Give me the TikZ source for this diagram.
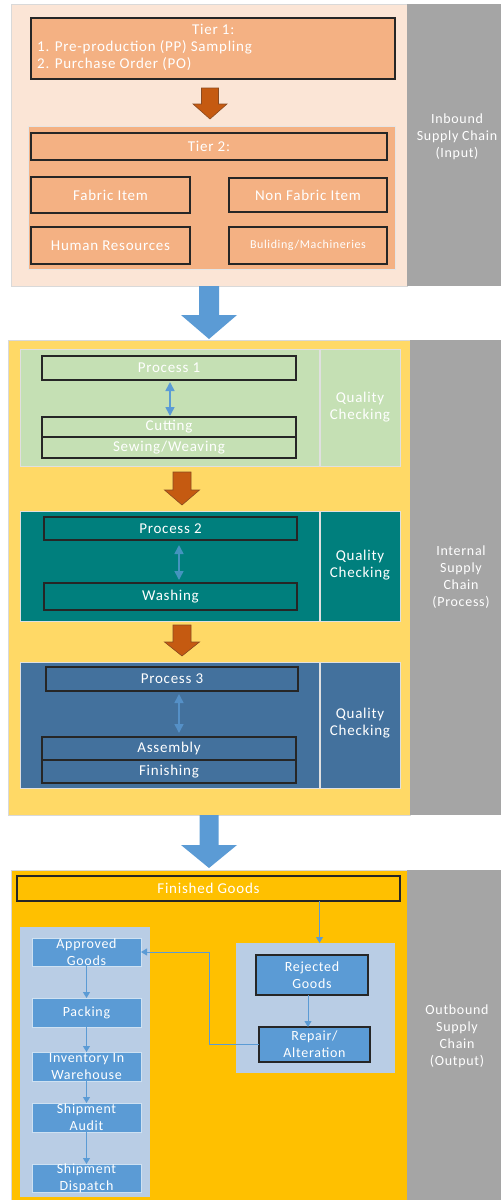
\documentclass[tikz,border=0pt]{standalone}
\usepackage{fontspec}
\setmainfont{Carlito}[LetterSpace=5]
\usetikzlibrary{arrows.meta,calc,fit}
\definecolor{peachbg}{HTML}{FBE5D6}
\definecolor{peach}{HTML}{F4B183}
\definecolor{rust}{HTML}{C55A11}
\definecolor{rustedge}{HTML}{8A4A20}
\definecolor{skyarrow}{HTML}{5B9BD5}
\definecolor{sidegray}{HTML}{A5A5A5}
\definecolor{gold}{HTML}{FFD966}
\definecolor{sage}{HTML}{C5E0B4}
\definecolor{tealbox}{HTML}{007F7D}
\definecolor{steel}{HTML}{43719D}
\definecolor{amber}{HTML}{FFC000}
\definecolor{paleblue}{HTML}{B9CDE5}
\definecolor{midblue}{HTML}{5B9BD5}
% downward block arrow: centre x, top y, head y, tip y, shaft half width, head half width, style
\newcommand\blockdown[7]{%
  \filldraw[#7] ({#1-#5},#2) -- ({#1+#5},#2) -- ({#1+#5},#3) -- ({#1+#6},#3)
    -- (#1,#4) -- ({#1-#6},#3) -- ({#1-#5},#3) -- cycle;}
\tikzset{
  lbl/.style={text=white, inner sep=0pt, align=center, font=\fontsize{15}{17}\selectfont},
  panel/.style={inner sep=0pt, outer sep=0pt, draw=black!15, line width=0.6pt},
  stagebox/.style={lbl, draw=black!85, line width=1.4pt, outer sep=0pt},
  goodsbox/.style={lbl, fill=midblue, draw=white!70!midblue, line width=0.8pt, outer sep=0pt,
    font=\fontsize{14}{17}\selectfont},
  flow/.style={draw=skyarrow, line width=1pt, -{Triangle[width=7pt,length=6pt]}},
  twoway/.style={draw=skyarrow, line width=1.6pt,
    {Triangle[width=9pt,length=9pt]}-{Triangle[width=9pt,length=9pt]}},
  sidelbl/.style={lbl, font=\fontsize{14}{17}\selectfont},
}
\begin{document}
\begin{tikzpicture}[x=1pt,y=-1pt]
\useasboundingbox (0,0) rectangle (501,1200);

%---------------- inbound supply chain
\node[panel, fill=peachbg, fit={(11,4) (407,286)}] (inbound) {};
\node[panel, fill=sidegray, draw=none, fit={(407,4) (501,286)}] (inside) {};
\node[sidelbl] at (457,137) {Inbound\\Supply Chain\\(Input)};

\node[stagebox, fill=peach, fit={(31,18) (395,79)}] (tier1) {};
\node[lbl, align=left, anchor=north west] at (37,24)
  {\makebox[352pt][c]{Tier 1:}\\1. Pre-production (PP) Sampling\\2. Purchase Order (PO)};

\blockdown{210}{88}{104}{119}{8.5}{17}{fill=rust, draw=rustedge, line width=0.6pt}

\node[panel, fill=peach, draw=black!10, fit={(28,126) (395,269)}] (tier2panel) {};
\node[stagebox, fill=peach, fit={(31,133) (387,160)}] (tier2) {};
\node[lbl] at (tier2) {Tier 2:};
\node[stagebox, fill=peach, fit={(31,177) (190,213)}] (fabric) {};
\node[lbl] at (fabric) {Fabric Item};
\node[stagebox, fill=peach, fit={(229,178) (387,212)}] (nonfabric) {};
\node[lbl] at (nonfabric) {Non Fabric Item};
\node[stagebox, fill=peach, fit={(31,227) (190,264)}] (human) {};
\node[lbl] at (human) {Human Resources};
\node[stagebox, fill=peach, fit={(229,227) (387,264)}] (building) {};
\node[lbl, font=\fontsize{12}{14}\selectfont] at (building) {Buliding/Machineries};

\blockdown{209}{286}{315}{339}{10}{28}{fill=skyarrow, draw=none}

%---------------- internal supply chain
\node[panel, fill=gold, fit={(8,340) (410,815)}] (internal) {};
\node[panel, fill=sidegray, draw=none, fit={(410,340) (501,815)}] (intside) {};
\node[sidelbl] at (461,577) {Internal\\Supply\\Chain\\(Process)};

% process 1
\node[panel, fill=sage, draw=black!12, fit={(20,349) (319,466)}] (p1panel) {};
\node[panel, fill=sage, draw=black!12, fit={(320,349) (400,466)}] (qc1) {};
\node[lbl] at (qc1.center |- 0,407) {Quality\\Checking};
\node[stagebox, fill=sage, fit={(42,356) (296,380)}] (proc1) {};
\node[lbl] at (proc1) {Process 1};
\node[stagebox, fill=sage, fit={(42,417) (296,437)}] (cutting) {};
\node[lbl] at (cutting) {Cutting};
\node[stagebox, fill=sage, fit={(42,437) (296,458)}] (sewing) {};
\node[lbl] at (sewing) {Sewing/Weaving};
\draw[twoway, shorten <=2pt, shorten >=1pt] ([xshift=1pt]proc1.south) -- ([xshift=1pt]cutting.north);

\blockdown{182}{472}{490}{505}{9}{17.5}{fill=rust, draw=rustedge, line width=0.6pt}

% process 2
\node[panel, fill=tealbox, draw=black!12, fit={(20,511) (319,621)}] (p2panel) {};
\node[panel, fill=tealbox, draw=black!12, fit={(320,511) (400,621)}] (qc2) {};
\node[lbl] at (qc2.center |- 0,565) {Quality\\Checking};
\node[stagebox, fill=tealbox, fit={(44,517) (297,540)}] (proc2) {};
\node[lbl] at (proc2) {Process 2};
\node[stagebox, fill=tealbox, fit={(44,583) (297,610)}] (washing) {};
\node[lbl] at (washing) {Washing};
\draw[twoway, draw=skyarrow!75!tealbox, shorten <=5pt, shorten >=3pt]
  ([xshift=8.5pt]proc2.south) -- ([xshift=8.5pt]washing.north);

\blockdown{182}{625}{642}{656}{9}{17.5}{fill=rust, draw=rustedge, line width=0.6pt}

% process 3
\node[panel, fill=steel, draw=black!12, fit={(20,662) (319,788)}] (p3panel) {};
\node[panel, fill=steel, draw=black!12, fit={(320,662) (400,788)}] (qc3) {};
\node[lbl] at (qc3.center |- 0,723) {Quality\\Checking};
\node[stagebox, fill=steel, fit={(46,667) (298,691)}] (proc3) {};
\node[lbl] at (proc3) {Process 3};
\node[stagebox, fill=steel, fit={(42,737) (296,760)}] (assembly) {};
\node[lbl] at (assembly) {Assembly};
\node[stagebox, fill=steel, fit={(42,760) (296,783)}] (finishing) {};
\node[lbl] at (finishing) {Finishing};
\draw[twoway, draw=skyarrow!75!steel, shorten <=3pt, shorten >=4pt]
  ([xshift=7pt]proc3.south) -- ([xshift=10pt]assembly.north);

\blockdown{209}{815}{845}{868}{9.5}{28}{fill=skyarrow, draw=none}

%---------------- outbound supply chain
\node[panel, fill=amber, fit={(11,870) (407,1200)}] (outbound) {};
\node[panel, fill=sidegray, draw=none, fit={(407,870) (501,1200)}] (outside) {};
\node[sidelbl] at (457,1036) {Outbound\\Supply\\Chain\\(Output)};

\node[stagebox, fill=amber, fit={(17,876) (400,901)}] (finished) {};
\node[lbl] at (finished) {Finished Goods};

\node[panel, fill=paleblue, draw=none, fit={(20,927) (150,1197)}] (approvedpanel) {};
\node[panel, fill=paleblue, draw=none, fit={(236,943) (395,1073)}] (rejectedpanel) {};

\node[goodsbox, fit={(32,938) (141,966)}] (approved) {};
\node[lbl, font=\fontsize{14}{17}\selectfont] at (approved) {Approved\\Goods};
\node[goodsbox, fit={(32,998) (141,1027)}] (packing) {};
\node[lbl, font=\fontsize{14}{17}\selectfont] at (packing) {Packing};
\node[goodsbox, fit={(32,1052) (141,1081)}] (inventory) {};
\node[lbl, font=\fontsize{14}{17}\selectfont] at (inventory) {Inventory In\\Warehouse};
\node[goodsbox, fit={(32,1103) (141,1132)}] (audit) {};
\node[lbl, font=\fontsize{14}{17}\selectfont] at (audit) {Shipment\\Audit};
\node[goodsbox, fit={(32,1164) (141,1192)}] (dispatch) {};
\node[lbl, font=\fontsize{14}{17}\selectfont] at (dispatch) {Shipment\\Dispatch};

\node[goodsbox, draw=black!85, line width=1.4pt, fit={(256,955) (368,995)}] (rejected) {};
\node[lbl, font=\fontsize{14}{17}\selectfont] at (rejected) {Rejected\\Goods};
\node[goodsbox, draw=black!85, line width=1.4pt, fit={(259,1027) (370,1062)}] (repair) {};
\node[lbl, font=\fontsize{14}{17}\selectfont] at (repair) {Repair/\\Alteration};

\draw[flow] (finished.south -| rejectedpanel.center) ++(4,0) coordinate (fgout)
  -- (fgout |- rejectedpanel.north);
\draw[flow] (approved) -- (packing);
\draw[flow] (packing) -- (inventory);
\draw[flow] (inventory) -- (audit);
\draw[flow] (audit) -- (dispatch);
\draw[flow] (rejected.south) ++(-4,0) coordinate (rjout) -- (rjout |- repair.north);
\coordinate (loopcorner) at (209,952);
\draw[flow] (repair.west) -| (loopcorner) -- (approved.east);
\end{tikzpicture}
\end{document}
